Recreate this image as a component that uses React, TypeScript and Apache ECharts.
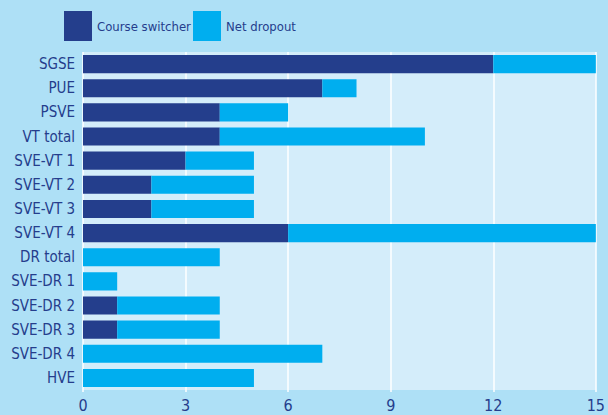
import React, { useEffect, useRef } from "react";
import * as echarts from "echarts";

const categories = [
  "SGSE",
  "PUE",
  "PSVE",
  "VT total",
  "SVE-VT 1",
  "SVE-VT 2",
  "SVE-VT 3",
  "SVE-VT 4",
  "DR total",
  "SVE-DR 1",
  "SVE-DR 2",
  "SVE-DR 3",
  "SVE-DR 4",
  "HVE",
];
const courseSwitcher = [12, 7, 4, 4, 3, 2, 2, 6, 0, 0, 1, 1, 0, 0];
const netDropout = [3, 1, 2, 6, 2, 3, 3, 9, 4, 1, 3, 3, 7, 5];
const seriesNames = ["Course switcher", "Net dropout"];

const FONT = "'DejaVu Sans Condensed', 'Liberation Sans Narrow', sans-serif";
const TEXT = "#253d8c";

const legendBase = {
  top: 6,
  itemWidth: 28,
  itemHeight: 30,
  icon: "rect",
  textStyle: { fontFamily: FONT, fontSize: 13, color: TEXT },
};

export default function App() {
  const ref = useRef<HTMLDivElement>(null);
  useEffect(() => {
    if (!ref.current) return;
    const chart = echarts.init(ref.current, null, { renderer: "svg" });
    chart.setOption({
      animation: false,
      backgroundColor: "#aee0f6",
      textStyle: { fontFamily: FONT, color: TEXT },
      legend: [
        { ...legendBase, left: 59, data: [seriesNames[0]] },
        { ...legendBase, left: 188, data: [seriesNames[1]] },
      ],
      grid: {
        left: 83,
        right: 7,
        top: 52,
        bottom: 25,
        show: true,
        backgroundColor: "#d4edfa",
        borderWidth: 0,
      },
      xAxis: {
        type: "value",
        min: 0,
        max: 15,
        interval: 3,
        axisLine: { show: false },
        axisTick: { show: true, length: 2, lineStyle: { color: "#ffffff", width: 1.5 } },
        splitLine: { show: true, lineStyle: { color: "#ffffff", width: 1.5 } },
        axisLabel: { fontFamily: FONT, fontSize: 16, color: TEXT, margin: 7 },
      },
      yAxis: {
        type: "category",
        inverse: true,
        data: categories,
        axisLine: { show: false },
        axisTick: { show: false },
        axisLabel: { fontFamily: FONT, fontSize: 15, color: TEXT, margin: 8 },
      },
      series: [
        {
          name: seriesNames[0],
          type: "bar",
          stack: "total",
          data: courseSwitcher,
          barCategoryGap: "25%",
          itemStyle: { color: "#243e8c" },
        },
        {
          name: seriesNames[1],
          type: "bar",
          stack: "total",
          data: netDropout,
          barCategoryGap: "25%",
          itemStyle: { color: "#00aeef" },
        },
      ],
    });
    return () => chart.dispose();
  }, []);
  return (
    <div
      ref={ref}
      style={{ position: "absolute", left: 0, top: 0, width: 608, height: 415 }}
    />
  );
}
